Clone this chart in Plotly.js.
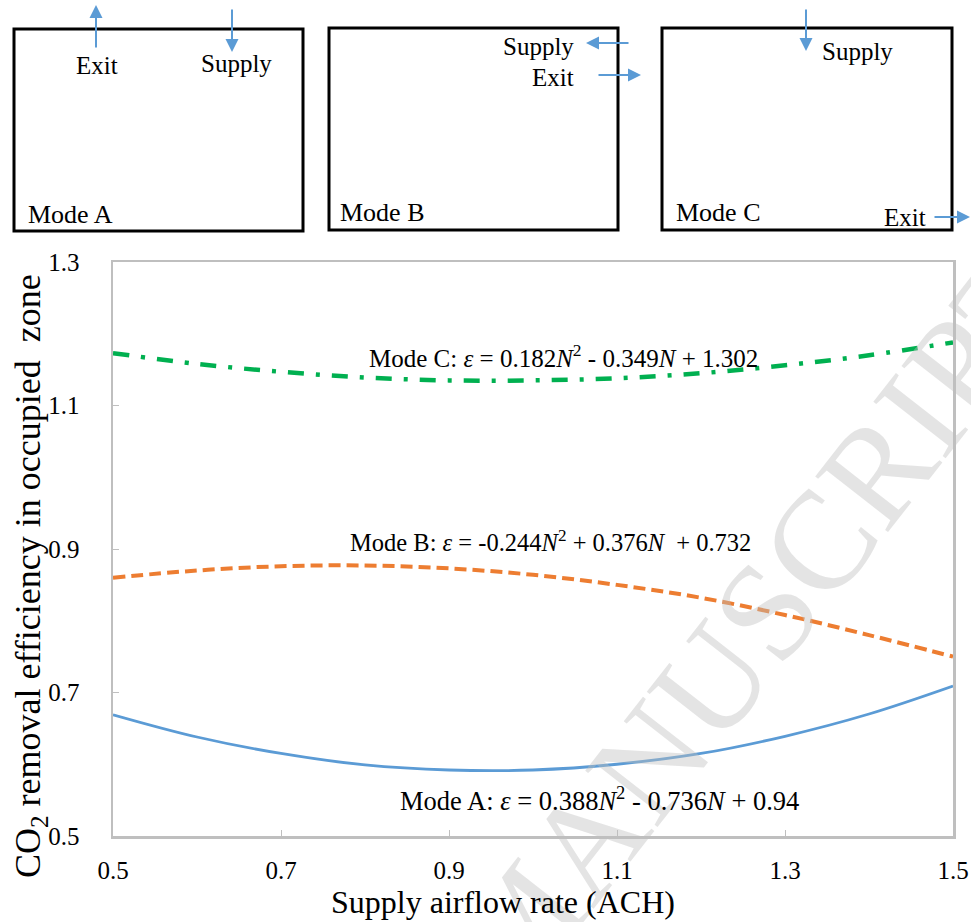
<!DOCTYPE html>
<html>
<head>
<meta charset="utf-8">
<script src="https://cdn.plot.ly/plotly-3.0.1.min.js"></script>
<style>html,body{margin:0;padding:0;background:#fff;}#chart{width:971px;height:922px;}</style>
</head>
<body>
<div id="chart"></div>
<script>
// ---- data ----
const airflow = [0.5, 0.6, 0.7, 0.8, 0.9, 1.0, 1.1, 1.2, 1.3, 1.4, 1.5];
const modeA = [0.669, 0.638, 0.615, 0.599, 0.592, 0.592, 0.600, 0.615, 0.639, 0.670, 0.709];
const modeB = [0.860, 0.870, 0.876, 0.877, 0.873, 0.864, 0.850, 0.832, 0.808, 0.780, 0.750];
const modeC = [1.173, 1.158, 1.147, 1.139, 1.135, 1.135, 1.138, 1.145, 1.156, 1.170, 1.188];
const xTicks = [0.5, 0.7, 0.9, 1.1, 1.3, 1.5];
const yTicks = [0.5, 0.7, 0.9, 1.1, 1.3];
const seriesNames = ["Mode A", "Mode B", "Mode C"];
const eqA = "Mode A: <i>ε</i> = 0.388<i>N</i><sup>2</sup> - 0.736<i>N</i> + 0.94";
const eqB = "Mode B: <i>ε</i> = -0.244<i>N</i><sup>2</sup> + 0.376<i>N</i>  + 0.732";
const eqC = "Mode C: <i>ε</i> = 0.182<i>N</i><sup>2</sup> - 0.349<i>N</i> + 1.302";
const xTitle = "Supply airflow rate (ACH)";
const yTitle = "CO<sub>2</sub> removal efficiency in occupied  zone";
const watermark = "MANUSCRIPT";

// ---- layout helpers (pixel -> paper) ----
const W = 971, H = 922, ML = 113, MR = 18, MT = 262, MB = 86;
const PW = W - ML - MR, PH = H - MT - MB;
const px = x => (x - ML) / PW;
const py = y => (H - MB - y) / PH;

const FONT = "Liberation Serif";
const BLUE = "#5b9bd5", ORANGE = "#ed7d31", GREEN = "#00b050";

const traces = [
  {x: airflow, y: modeA, name: seriesNames[0], mode: "lines", line: {color: BLUE, width: 2.8, shape: "spline"}},
  {x: airflow, y: modeB, name: seriesNames[1], mode: "lines", line: {color: ORANGE, width: 4, dash: "12px,6px", shape: "spline"}},
  {x: airflow, y: modeC, name: seriesNames[2], mode: "lines", line: {color: GREEN, width: 4.5, dash: "16px,12px,4px,12px", shape: "spline"}}
];

function txt(text, x, y, size, xanchor) {
  return {text: text, xref: "paper", yref: "paper", x: px(x), y: py(y), showarrow: false,
          xanchor: xanchor || "center", yanchor: "middle", font: {family: FONT, size: size, color: "#000"}};
}
function arrow(tipX, tipY, tailX, tailY) {
  return {text: "", xref: "paper", yref: "paper", x: px(tipX), y: py(tipY), ax: tailX - tipX, ay: tailY - tipY,
          showarrow: true, arrowhead: 2, arrowsize: 1.3, arrowwidth: 2, arrowcolor: BLUE, standoff: 0, startstandoff: 0};
}
function box(x0, y0, x1, y1) {
  return {type: "rect", xref: "paper", yref: "paper", x0: px(x0), x1: px(x1), y0: py(y0), y1: py(y1),
          line: {color: "#000", width: 3}, fillcolor: "rgba(0,0,0,0)"};
}

const annotations = [
  // watermark
  {text: watermark, xref: "paper", yref: "paper", x: px(756), y: py(623), xanchor: "center", yanchor: "middle",
   showarrow: false, textangle: -52, font: {family: FONT, size: 140, color: "rgba(190,190,190,0.42)"}},
  // equations
  txt(eqC, 563, 356, 25),
  txt(eqB, 550, 541, 24.5),
  txt(eqA, 599, 799, 26.5),
  // axis titles
  txt(xTitle, 503, 902, 32),
  Object.assign(txt(yTitle, 30, 576, 36), {textangle: -90}),
  // mode diagrams text
  txt("Exit", 97, 66, 25), txt("Supply", 236, 63, 25), txt("Mode A", 26, 215, 26, "left"),
  txt("Supply", 576, 46, 25, "right"), txt("Exit", 576, 77, 25, "right"), txt("Mode B", 338, 213, 26, "left"),
  txt("Supply", 820, 51, 25, "left"), txt("Mode C", 674, 213, 26, "left"), txt("Exit", 882, 217, 25, "left"),
  // arrows
  arrow(96, 5, 96, 49), arrow(232, 52, 232, 8),
  arrow(586, 43, 630, 43), arrow(641, 75, 597, 75),
  arrow(806, 51, 806, 8), arrow(971, 217, 933, 217)
];

const shapes = [box(14, 29, 303, 231), box(329, 28, 618, 230), box(662, 28, 952, 230)];

const axisCommon = {showgrid: false, zeroline: false, showline: true, mirror: true, linecolor: "#bfbfbf", linewidth: 2.5,
  ticks: "inside", ticklen: 6, tickcolor: "#bfbfbf", tickwidth: 1, tickfont: {family: FONT, size: 25, color: "#000"},
  tickformat: ".1f", fixedrange: true};

const layout = {
  width: W, height: H, margin: {l: ML, r: MR, t: MT, b: MB}, paper_bgcolor: "#fff", plot_bgcolor: "#fff",
  showlegend: false,
  xaxis: Object.assign({}, axisCommon, {range: [0.5, 1.5], tickvals: xTicks, ticklabelstandoff: 10}),
  yaxis: Object.assign({}, axisCommon, {range: [0.5, 1.3], tickvals: yTicks, ticklabelstandoff: 26}),
  annotations: annotations, shapes: shapes
};

Plotly.newPlot("chart", traces, layout, {displayModeBar: false, staticPlot: true});
</script>
</body>
</html>
